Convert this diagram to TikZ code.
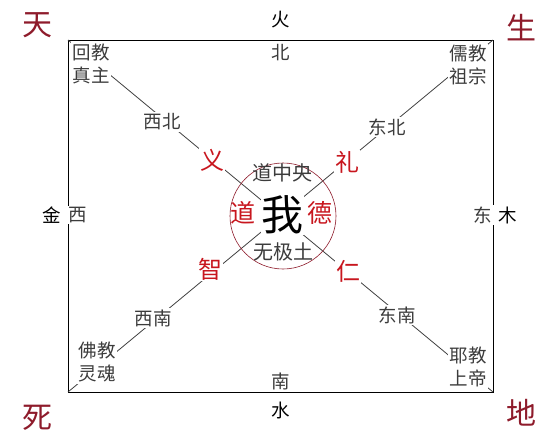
\documentclass[tikz,border=0pt]{standalone}
\usepackage{fontspec}
\usepackage{xcolor}
\usetikzlibrary{positioning}
\newfontfamily\cjkfont{Noto Sans CJK SC}
\definecolor{darkred}{HTML}{8E1B2B}
\definecolor{vermil}{HTML}{C8161E}
\definecolor{inkgray}{HTML}{3C3C3C}
\tikzset{
  lbl/.style={font=\cjkfont\fontsize{18.5}{23}\selectfont, text=inkgray, fill=white, inner sep=1.5pt},
  virtue/.style={font=\cjkfont\fontsize{24}{26}\selectfont, text=vermil, fill=white, inner sep=1pt},
  fate/.style={font=\cjkfont\fontsize{30}{32}\selectfont, text=darkred},
  elem/.style={font=\cjkfont\fontsize{18.5}{20}\selectfont, text=black},
  diag/.style={draw=black!75, line width=0.8pt},
}
\begin{document}
\begin{tikzpicture}[x=1pt,y=-1pt]
        \useasboundingbox (0,0) rectangle (558,440);
        \coordinate (nw) at (68,40);
        \coordinate (ne) at (493,40);
        \coordinate (se) at (493,392);
        \coordinate (sw) at (68,392);
        \draw[line width=0.9pt] (nw) rectangle (se);
        \draw[diag] (nw) -- (se);
        \draw[diag] (ne) -- (sw);
        \node[circle, draw=darkred, line width=0.6pt, minimum size=106pt, inner sep=0pt] (ring) at (283,216) {};
        % heaven, birth, death, earth
        \node[fate] (tian) at (38,25) {天};
        \node[fate] (sheng) at (521,28) {生};
        \node[fate] (si) at (38,418) {死};
        \node[fate] (di) at (521,413) {地};
        % elements and directions
        \node[elem] (huo) at (281,20) {火};
        \node[lbl] (bei) at (281,53) {北};
        \node[lbl] (nan) at (281,381) {南};
        \node[elem] (shui) at (281,410) {水};
        \node[elem] (jin) at (52,215) {金};
        \node[lbl] (xi) at (78,215) {西};
        \node[lbl] (dong) at (483,215) {东};
        \node[elem] (mu) at (508,215) {木};
        % religions
        \node[lbl, align=left] (huijiao) at (91,64) {回教\\真主};
        \node[lbl, align=left] (rujiao) at (468,65) {儒教\\祖宗};
        \node[lbl, align=left] (fojiao) at (97,362) {佛教\\灵魂};
        \node[lbl, align=left] (yejiao) at (468,367) {耶教\\上帝};
        \node[lbl] (xibei) at (162,122) {西北};
        \node[lbl] (dongbei) at (387,127) {东北};
        \node[lbl] (xinan) at (153,318) {西南};
        \node[lbl] (dongnan) at (397,315) {东南};
        % virtues
        \node[virtue] (yi) at (212,160) {义};
        \node[virtue] (li) at (347,162) {礼};
        \node[virtue] (zhi) at (210,269) {智};
        \node[virtue] (ren) at (348,271) {仁};
        % centre
        \node[lbl, font=\cjkfont\fontsize{20}{22}\selectfont, fill=none] (zhongyang) at (282,173) {道中央};
        \node[lbl, font=\cjkfont\fontsize{20}{22}\selectfont, fill=none] (wuji) at (283,252) {无极土};
        \node[virtue, font=\cjkfont\fontsize{25}{27}\selectfont, fill=none] (dao) at (243,213) {道};
        \node[virtue, font=\cjkfont\fontsize{25}{27}\selectfont, fill=none] (de) at (320,213) {德};
        \node[font=\cjkfont\fontsize{42}{44}\selectfont, fill=white, inner sep=0.5pt] (wo) at (282,215) {我};
    \end{tikzpicture}
\end{document}
